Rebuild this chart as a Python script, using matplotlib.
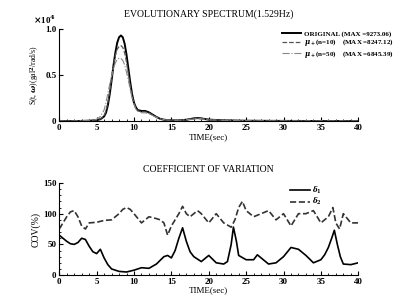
import numpy as np
import matplotlib.pyplot as plt
from matplotlib.ticker import MultipleLocator

plt.rcParams['font.family'] = ['Liberation Serif', 'DejaVu Serif']
plt.rcParams['font.weight'] = 'bold'
plt.rcParams['mathtext.fontset'] = 'dejavuserif'

# evolutionary spectrum at 1.529 Hz (x 10^4)
t_spec = [0, 2, 4, 5, 5.5, 6, 6.25, 6.5, 6.75, 7, 7.25, 7.5, 7.75, 8, 8.25, 8.5, 8.75, 9, 9.25, 9.5, 9.75, 10, 10.25, 10.5, 11, 11.5, 12, 12.5, 13, 13.5, 14, 15, 16, 17, 17.5, 18, 18.5, 19, 19.5, 20, 21, 22, 25, 30, 35, 40]
s_orig = [0, 0, 0.004, 0.01, 0.02, 0.05, 0.09, 0.17, 0.29, 0.44, 0.6, 0.74, 0.85, 0.91, 0.93, 0.91, 0.84, 0.72, 0.57, 0.42, 0.29, 0.2, 0.15, 0.12, 0.11, 0.11, 0.095, 0.07, 0.045, 0.025, 0.015, 0.008, 0.008, 0.015, 0.022, 0.03, 0.033, 0.03, 0.022, 0.016, 0.012, 0.008, 0.004, 0.002, 0.001, 0.001]
s_n10 = [0, 0, 0.005, 0.012, 0.025, 0.06, 0.11, 0.2, 0.32, 0.46, 0.6, 0.71, 0.78, 0.81, 0.82, 0.8, 0.74, 0.64, 0.51, 0.38, 0.27, 0.19, 0.14, 0.11, 0.1, 0.1, 0.088, 0.065, 0.042, 0.024, 0.014, 0.008, 0.008, 0.014, 0.02, 0.027, 0.03, 0.027, 0.02, 0.015, 0.011, 0.008, 0.004, 0.002, 0.001, 0.001]
s_n50 = [0, 0, 0.008, 0.02, 0.05, 0.12, 0.2, 0.3, 0.4, 0.49, 0.57, 0.63, 0.67, 0.68, 0.68, 0.66, 0.61, 0.53, 0.44, 0.34, 0.25, 0.18, 0.13, 0.11, 0.09, 0.09, 0.08, 0.06, 0.04, 0.024, 0.015, 0.009, 0.009, 0.014, 0.019, 0.024, 0.026, 0.024, 0.019, 0.014, 0.011, 0.008, 0.004, 0.002, 0.001, 0.001]

# coefficient of variation (%)
t_cov1 = [0, 0.5, 1, 1.5, 2, 2.5, 3, 3.5, 4, 4.5, 5, 5.5, 6, 6.5, 7, 8, 9, 10, 11, 12, 13, 14, 14.5, 15, 15.5, 16, 16.5, 17, 17.5, 18, 19, 20, 21, 22, 22.5, 23, 23.3, 23.7, 24, 25, 26, 26.5, 27, 28, 29, 30, 31, 32, 33, 34, 35, 35.5, 36, 36.5, 36.8, 37.2, 37.6, 38, 39, 40]
cov1 = [65, 60, 55, 51, 50, 53, 60, 58, 47, 38, 35, 42, 28, 17, 10, 6, 5, 8, 12, 11, 18, 30, 32, 28, 40, 60, 77, 55, 38, 30, 22, 32, 20, 18, 22, 50, 78, 55, 32, 25, 25, 33, 28, 18, 20, 30, 45, 42, 32, 20, 25, 33, 45, 62, 73, 50, 30, 18, 17, 20]
t_cov2 = [0, 0.5, 1, 1.5, 2, 2.5, 3, 3.5, 4, 5, 6, 7, 8, 8.5, 9, 9.5, 10, 11, 12, 13, 13.5, 14, 14.5, 15, 16, 16.5, 17, 17.5, 18, 18.5, 19, 20, 21, 22, 23, 23.5, 24, 24.5, 25, 26, 27, 28, 29, 30, 31, 32, 33, 34, 35, 36, 36.6, 37, 37.5, 38, 39, 40]
cov2 = [75, 85, 95, 103, 105, 95, 80, 75, 85, 86, 89, 90, 100, 107, 110, 107, 100, 85, 95, 92, 90, 85, 65, 80, 100, 112, 100, 95, 100, 105, 100, 85, 100, 85, 78, 90, 110, 120, 105, 95, 100, 105, 90, 100, 80, 100, 100, 105, 85, 95, 110, 85, 75, 100, 85, 85]

fig = plt.figure(figsize=(4.03, 2.99), dpi=100)
ax1 = fig.add_axes([0.147, 0.595, 0.742, 0.308])
ax2 = fig.add_axes([0.147, 0.08, 0.742, 0.308])

ax1.plot(t_spec, s_orig, 'k-', lw=1.4, label='ORIGINAL (MAX =9273.06)')
ax1.plot(t_spec, s_n10, color='#555555', ls='--', lw=0.9, label=r'$\mu_+$(n=10)    (MAX =8247.12)')
ax1.plot(t_spec, s_n50, color='#888888', ls='-.', lw=0.8, label=r'$\mu_+$(n=50)    (MAX =6845.39)')
ax1.set_xlim(0, 40)
ax1.set_ylim(0, 1.0)
ax1.set_yticks([0, 0.5, 1.0])
ax1.set_yticklabels(['0', '0.5', '1.0'])
ax1.set_xticks(range(0, 41, 5))
ax1.xaxis.set_minor_locator(MultipleLocator(1))
ax1.set_title('EVOLUTIONARY SPECTRUM(1.529Hz)', fontsize=7, pad=9)
ax1.set_xlabel('TIME(sec)', fontsize=6.5, labelpad=1)
ax1.set_ylabel(r'S(t, $\omega$)(gal$^2$/rad/s)', fontsize=5.5, labelpad=2)
ax1.text(-0.01, 1.05, r'$\times$10$^4$', transform=ax1.transAxes, fontsize=6.5, ha='right')
ax1.legend(loc='upper right', bbox_to_anchor=(1.14, 1.05), fontsize=5, frameon=False,
           handlelength=2.8, handletextpad=0.4, labelspacing=0.05)

ax2.plot(t_cov1, cov1, 'k-', lw=1.2, label=r'$\delta_1$')
ax2.plot(t_cov2, cov2, color='#333333', ls='--', lw=1.2, label=r'$\delta_2$')
ax2.set_xlim(0, 40)
ax2.set_ylim(0, 150)
ax2.set_yticks([0, 50, 100, 150])
ax2.yaxis.set_minor_locator(MultipleLocator(10))
ax2.set_xticks(range(0, 41, 5))
ax2.xaxis.set_minor_locator(MultipleLocator(1))
ax2.set_title('COEFFICIENT OF VARIATION', fontsize=7, pad=8)
ax2.set_xlabel('TIME(sec)', fontsize=6.5, labelpad=0)
ax2.set_ylabel('COV(%)', fontsize=7, labelpad=2)
ax2.legend(loc='upper right', bbox_to_anchor=(0.9, 1.05), fontsize=5, frameon=False,
           handlelength=2.8, handletextpad=0.4, labelspacing=0.05)

for ax in (ax1, ax2):
    ax.spines['top'].set_visible(False)
    ax.spines['right'].set_visible(False)
    ax.tick_params(which='both', direction='in', labelsize=6.5, pad=2)
    ax.tick_params(which='major', length=3)
    ax.tick_params(which='minor', length=1.5)

fig.savefig('out.png', dpi=100)
